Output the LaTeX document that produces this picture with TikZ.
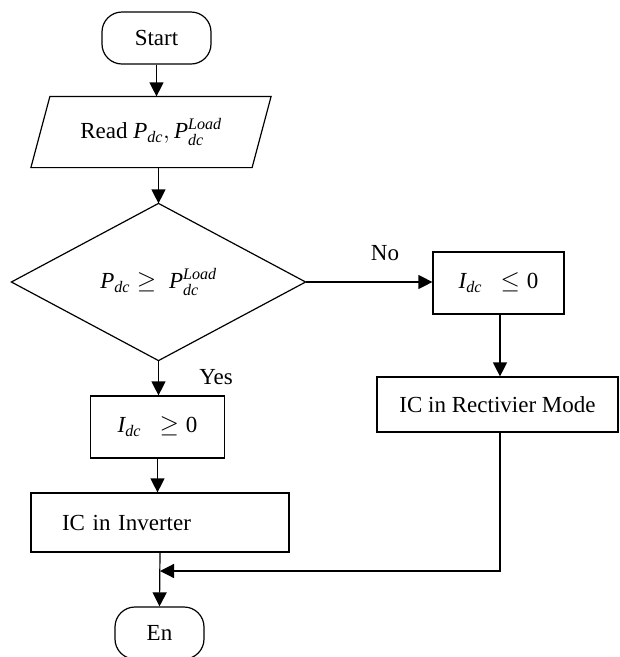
\documentclass[tikz,border=0pt]{standalone}
\usepackage{fontspec}
\setmainfont{Liberation Serif}
\usetikzlibrary{arrows.meta}
\begin{document}
\begin{tikzpicture}[x=1pt,y=-1pt,
  font=\fontsize{23}{27}\selectfont,
  line width=1.2pt,
  box/.style={draw, rectangle, inner sep=0pt},
  term/.style={draw, rectangle, rounded corners=20pt, inner sep=0pt},
  arr/.style={-{Triangle[length=14pt,width=14pt]}},
  lbl/.style={inner sep=0pt}]
\useasboundingbox (0,0) rectangle (620,657);
\clip (0,0) rectangle (620,657);
% nodes
\node[term, minimum width=109pt, minimum height=52pt] (start) at (156.5,38) {Start};
\node[inner sep=0pt, minimum width=239pt, minimum height=70pt] (read) at (151,132) {Read $\mathit{P}_{\mathit{dc}}, \mathit{P}_{\mathit{dc}}^{\mathit{Load}}$};
\draw ([xshift=19pt]read.north west) -- (read.north east) -- ([xshift=-19pt]read.south east) -- (read.south west) -- cycle;
\node[inner sep=0pt, minimum width=293pt, minimum height=156pt] (dec) at (158.5,282) {$\mathit{P}_{\mathit{dc}} \geq\ \mathit{P}_{\mathit{dc}}^{\mathit{Load}}$};
\draw (dec.north) -- (dec.east) -- (dec.south) -- (dec.west) -- cycle;
\node[box, minimum width=131pt, minimum height=62pt] (idcle) at (498.5,283) {$\mathit{I}_{\mathit{dc}}\ \ \leq \mathrm{0}$};
\node[box, minimum width=241pt, minimum height=55pt] (rect) at (497.5,404.5) {IC in Rectivier Mode};
\node[box, minimum width=134pt, minimum height=62pt] (idcge) at (157.5,427) {$\mathit{I}_{\mathit{dc}}\ \ \geq \mathrm{0}$};
\node[box, text width=196pt, inner xsep=31pt, minimum height=59pt, align=left] (inv) at (160,522.5) {IC in Inverter};
\node[term, minimum width=89pt, minimum height=52pt] (end) at (159.5,633) {En};
\coordinate (join) at (160,571);
% labels
\node[lbl] (no) at (385,253) {No};
\node[lbl] (yes) at (216,377) {Yes};
% connectors
\draw[arr] (start.south) -- (start.south |- read.north);
\draw[arr] (read.south -| dec.north) -- (dec.north);
\draw[arr] (dec.east) -- (dec.east -| idcle.west);
\draw[arr] (dec.south) -- (dec.south |- idcge.north);
\draw[arr] ([xshift=1.5pt]idcle.south) -- ([xshift=1.5pt]idcle.south |- rect.north);
\draw[arr] (idcge.south) -- (idcge.south |- inv.north);
\draw[arr] (inv.south) -- (end.north);
\draw[arr] ([xshift=2.5pt]rect.south) |- (join);
\end{tikzpicture}
\end{document}
